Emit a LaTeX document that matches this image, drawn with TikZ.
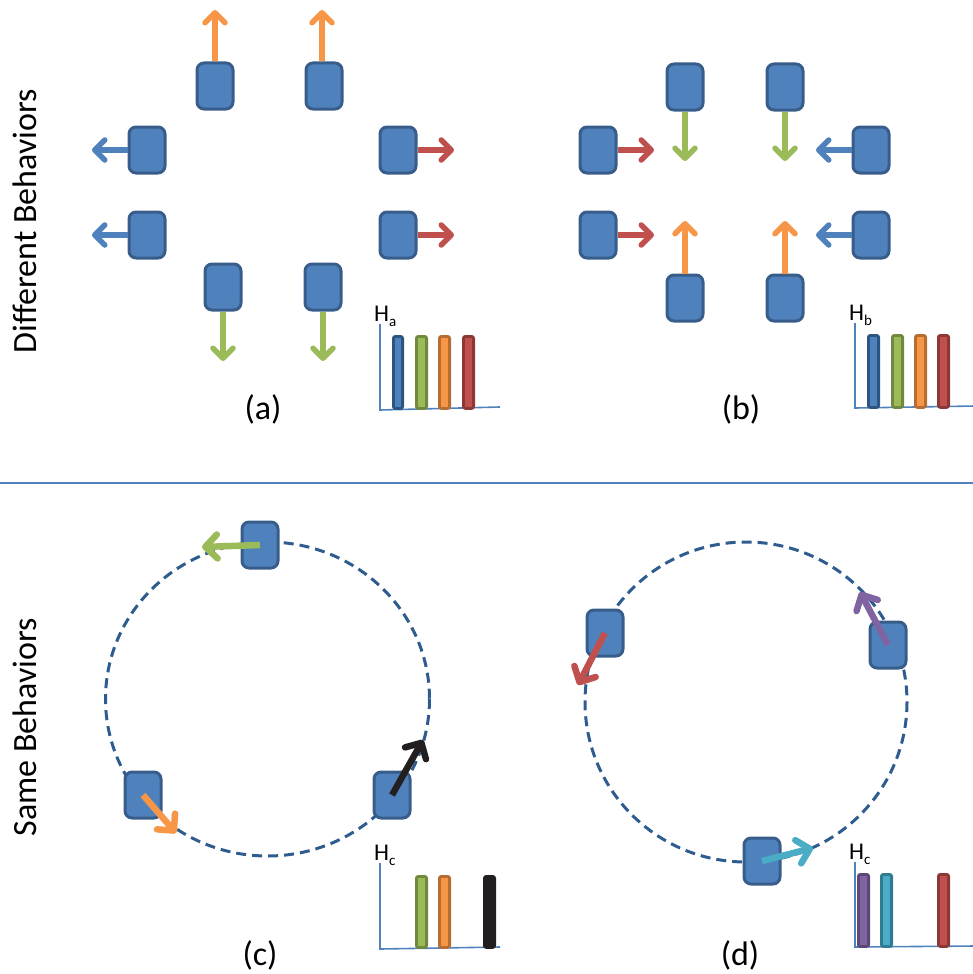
\documentclass[tikz,border=0pt]{standalone}
\usepackage{fontspec}
\setmainfont{Carlito}
\usetikzlibrary{arrows.meta}
\definecolor{boxfill}{HTML}{4F81BD}
\definecolor{boxline}{HTML}{385D8A}
\definecolor{ora}{HTML}{F79646}
\definecolor{orad}{HTML}{B66D31}
\definecolor{gre}{HTML}{9BBB59}
\definecolor{gred}{HTML}{71893F}
\definecolor{redc}{HTML}{C0504D}
\definecolor{redd}{HTML}{8C3836}
\definecolor{blu}{HTML}{4F81BD}
\definecolor{blud}{HTML}{2C5582}
\definecolor{pur}{HTML}{8064A2}
\definecolor{purd}{HTML}{5C4776}
\definecolor{cya}{HTML}{4BACC6}
\definecolor{cyad}{HTML}{2F7C91}
\definecolor{blk}{HTML}{231F20}
\definecolor{circ}{HTML}{2F5C8F}
\begin{document}
\begin{tikzpicture}[x=1pt,y=-1pt,
  box/.style={draw=boxline, fill=boxfill, line width=3pt, rounded corners=7pt,
    minimum width=36pt, minimum height=46pt, inner sep=0pt},
  arr/.style={line width=5.5pt, draw=#1,
    -{Straight Barb[length=10pt,width=20pt,line cap=round,line join=round]}},
  bigarr/.style={line width=6.5pt, draw=#1,
    -{Straight Barb[length=12pt,width=24pt,line cap=round,line join=round]}},
  hbar/.style 2 args={draw=#2, fill=#1, line width=2.8pt, rounded corners=2pt},
  axis/.style={draw=blu, line width=1.6pt},
  lab/.style={font=\fontsize{34}{36}\selectfont},
  title/.style={font=\fontsize{34}{36}\selectfont, rotate=90},
  hl/.style={anchor=base west, inner sep=0pt, font=\fontsize{24}{24}\selectfont},
  circline/.style={draw=circ, line width=3pt, dash pattern=on 10pt off 6pt}]
\useasboundingbox (0,0) rectangle (973,974);

% titles and separator
\node[title] (t1) at (25,221) {Different Behaviors};
\node[title] (t2) at (25,727) {Same Behaviors};
\draw[blu, line width=1.5pt] (0,483) -- (973,483);

% ---------------- panel (a)
\node[box] (a1) at (215,86) {};
\node[box] (a2) at (324,86) {};
\node[box] (a3) at (147,150) {};
\node[box] (a4) at (147,235) {};
\node[box] (a5) at (398,150) {};
\node[box] (a6) at (398,235) {};
\node[box] (a7) at (223,287) {};
\node[box] (a8) at (323,287) {};
\coordinate (ta1) at (215,10);
\coordinate (ta2) at (322,10);
\coordinate (ta3) at (92,150);
\coordinate (ta4) at (92,235);
\coordinate (ta5) at (454,150);
\coordinate (ta6) at (454,235);
\coordinate (ta7) at (223,361);
\coordinate (ta8) at (323,361);
\draw[arr=ora] (a1.north) -- (ta1);
\draw[arr=ora] ([xshift=-2pt]a2.north) -- (ta2);
\draw[arr=blu] (a3.west) -- (ta3);
\draw[arr=blu] (a4.west) -- (ta4);
\draw[arr=redc] (a5.east) -- (ta5);
\draw[arr=redc] (a6.east) -- (ta6);
\draw[arr=gre] (a7.south) -- (ta7);
\draw[arr=gre] (a8.south) -- (ta8);
\node[lab] (la) at (263,409) {(a)};
% histogram a
\draw[axis] (380,324) -- (380,410) -- (500,407);
\node[hl] (ha) at (374,321) {H\raisebox{-5pt}{\fontsize{15}{15}\selectfont a}};
\draw[hbar={blu}{blud}] (393.4,336.4) rectangle (402.6,408.4);
\draw[hbar={gre}{gred}] (416.4,336.4) rectangle (426.6,408.4);
\draw[hbar={ora}{orad}] (439.4,336.4) rectangle (449.6,408.4);
\draw[hbar={redc}{redd}] (463.4,336.4) rectangle (473.6,408.4);

% ---------------- panel (b)
\node[box] (b1) at (685,87) {};
\node[box] (b2) at (785,87) {};
\node[box] (b3) at (598,150) {};
\node[box] (b4) at (598,235) {};
\node[box] (b5) at (871,150) {};
\node[box] (b6) at (871,235) {};
\node[box] (b7) at (685,298) {};
\node[box] (b8) at (785,298) {};
\coordinate (tb1) at (685,161);
\coordinate (tb2) at (785,161);
\coordinate (tb3) at (654,150);
\coordinate (tb4) at (654,235);
\coordinate (tb5) at (816,150);
\coordinate (tb6) at (816,235);
\coordinate (tb7) at (685,221);
\coordinate (tb8) at (785,221);
\draw[arr=gre] (b1.south) -- (tb1);
\draw[arr=gre] (b2.south) -- (tb2);
\draw[arr=redc] (b3.east) -- (tb3);
\draw[arr=redc] (b4.east) -- (tb4);
\draw[arr=blu] (b5.west) -- (tb5);
\draw[arr=blu] (b6.west) -- (tb6);
\draw[arr=ora] (b7.north) -- (tb7);
\draw[arr=ora] (b8.north) -- (tb8);
\node[lab] (lb) at (741,409) {(b)};
% histogram b
\draw[axis] (855,323) -- (855,408) -- (975,406);
\node[hl] (hb) at (849,320) {H\raisebox{-5pt}{\fontsize{15}{15}\selectfont b}};
\draw[hbar={blu}{blud}] (868.4,335.4) rectangle (878.6,407.4);
\draw[hbar={gre}{gred}] (892.4,335.4) rectangle (902.6,407.4);
\draw[hbar={ora}{orad}] (915.4,335.4) rectangle (925.6,407.4);
\draw[hbar={redc}{redd}] (938.4,335.4) rectangle (948.6,407.4);

% ---------------- panel (c)
\draw[circline] (267.5,699) ellipse [x radius=162, y radius=157];
\node[box] (c1) at (260,545) {};
\node[box] (c2) at (143,795) {};
\node[box] (c3) at (392,795) {};
\coordinate (tc1) at (202,547);
\coordinate (tc2) at (176,833);
\coordinate (tc3) at (423,740);
\draw[bigarr=gre] (c1.center) -- (tc1);
\draw[bigarr=ora] (c2.center) -- (tc2);
\draw[bigarr=blk] (c3.center) -- (tc3);
\node[lab] (lc) at (260,955) {(c)};
% histogram c
\draw[axis] (380,863) -- (380,949) -- (500,947);
\node[hl] (hc) at (374,860) {H\raisebox{-5pt}{\fontsize{15}{15}\selectfont c}};
\draw[hbar={gre}{gred}] (416.4,876.4) rectangle (426.6,947.4);
\draw[hbar={ora}{orad}] (439.4,876.4) rectangle (449.6,947.4);
\draw[hbar={blk}{blk}] (484.4,876.4) rectangle (494.6,947.4);

% ---------------- panel (d)
\draw[circline] (746,702) ellipse [x radius=161, y radius=160];
\node[box] (d1) at (605,633) {};
\node[box] (d2) at (888,645) {};
\node[box] (d3) at (762,861) {};
\coordinate (td1) at (578,685);
\coordinate (td2) at (860,592);
\coordinate (td3) at (813,848);
\draw[bigarr=redc] (d1.center) -- (td1);
\draw[bigarr=pur] (d2.center) -- (td2);
\draw[bigarr=cya] (d3.center) -- (td3);
\node[lab] (ld) at (740,955) {(d)};
% histogram d
\draw[axis] (855,862) -- (855,947) -- (975,946);
\node[hl] (hd) at (849,859) {H\raisebox{-5pt}{\fontsize{15}{15}\selectfont c}};
\draw[hbar={pur}{purd}] (858.4,874.4) rectangle (868.6,946.4);
\draw[hbar={cya}{cyad}] (881.4,874.4) rectangle (891.6,946.4);
\draw[hbar={redc}{redd}] (938.4,874.4) rectangle (948.6,946.4);
\end{tikzpicture}
\end{document}
